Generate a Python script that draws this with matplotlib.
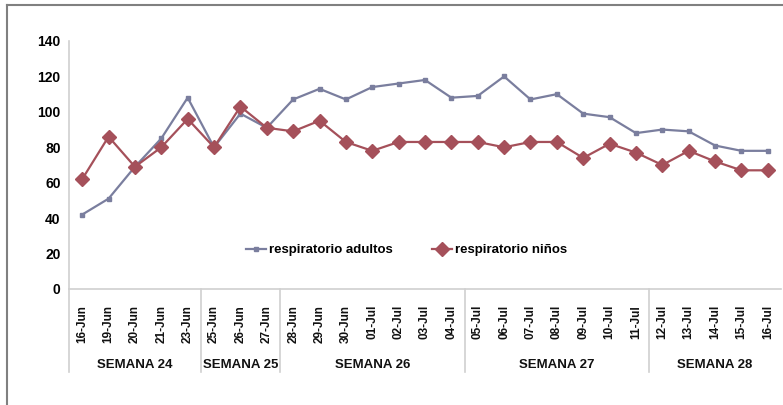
import matplotlib.pyplot as plt
from matplotlib.lines import Line2D

plt.rcParams['font.family'] = ['Liberation Sans', 'DejaVu Sans']

fechas = ["16-Jun", "19-Jun", "20-Jun", "21-Jun", "23-Jun",
          "25-Jun", "26-Jun", "27-Jun",
          "28-Jun", "29-Jun", "30-Jun", "01-Jul", "02-Jul", "03-Jul", "04-Jul",
          "05-Jul", "06-Jul", "07-Jul", "08-Jul", "09-Jul", "10-Jul", "11-Jul",
          "12-Jul", "13-Jul", "14-Jul", "15-Jul", "16-Jul"]
adultos = [42, 51, 69, 85, 108, 80, 99, 91, 107, 113, 107, 114, 116, 118, 108,
           109, 120, 107, 110, 99, 97, 88, 90, 89, 81, 78, 78]
ninos = [62, 86, 69, 80, 96, 80, 103, 91, 89, 95, 83, 78, 83, 83, 83,
         83, 80, 83, 83, 74, 82, 77, 70, 78, 72, 67, 67]
semanas = ["SEMANA 24", "SEMANA 25", "SEMANA 26", "SEMANA 27", "SEMANA 28"]
dias_por_semana = [5, 3, 7, 7, 5]

c_adultos = "#7a7e9e"
c_ninos = "#a5505a"

fig = plt.figure(figsize=(7.83, 4.05), dpi=100)
ax = fig.add_axes([69 / 783, 1 - 289 / 405, 712 / 783, 248 / 405])

x = list(range(len(fechas)))
ax.plot(x, adultos, color=c_adultos, lw=1.6, marker="s", ms=3.5,
        label="respiratorio adultos")
ax.plot(x, ninos, color=c_ninos, lw=1.6, marker="D", ms=7,
        label="respiratorio niños")

ax.set_xlim(-0.5, len(fechas) - 0.5)
ax.set_ylim(0, 140)
ax.set_yticks(range(0, 141, 20))
ax.tick_params(axis="y", length=0, pad=6, labelsize=10)
for lab in ax.get_yticklabels():
    lab.set_fontweight("bold")
ax.set_xticks([])

for s in ["top", "right"]:
    ax.spines[s].set_visible(False)
for s in ["left", "bottom"]:
    ax.spines[s].set_color("#d0d0d0")
    ax.spines[s].set_linewidth(1.2)

trans = ax.get_xaxis_transform()
for i, f in enumerate(fechas):
    ax.text(i, -0.065, f, transform=trans, rotation=90, ha="center", va="top",
            fontsize=8.5, fontweight="bold", color="#111111")

# separadores de semana y etiquetas
inicio = 0
bordes = [-0.5]
for sem, n in zip(semanas, dias_por_semana):
    centro = inicio + (n - 1) / 2
    ax.text(centro, -0.305, sem, transform=trans, ha="center", va="center",
            fontsize=9.5, fontweight="bold", color="#111111")
    inicio += n
    bordes.append(inicio - 0.5)
for b in bordes[:-1]:
    ax.plot([b, b], [0, -0.335], transform=trans, color="#d0d0d0", lw=1.2,
            clip_on=False)

leg = ax.legend(loc="center", bbox_to_anchor=(0.474, 0.157), ncol=2,
                frameon=False, handlelength=1.5, handletextpad=0.2,
                columnspacing=3.0, prop={"weight": "bold", "size": 9.5})

# borde exterior del grafico
fig.add_artist(Line2D([7 / 783, 7 / 783], [0, 1 - 5 / 405], color="#808080",
                      lw=1.5, transform=fig.transFigure))
fig.add_artist(Line2D([7 / 783, 1], [1 - 5 / 405, 1 - 5 / 405], color="#808080",
                      lw=1.5, transform=fig.transFigure))

fig.savefig("out.png", dpi=100)
